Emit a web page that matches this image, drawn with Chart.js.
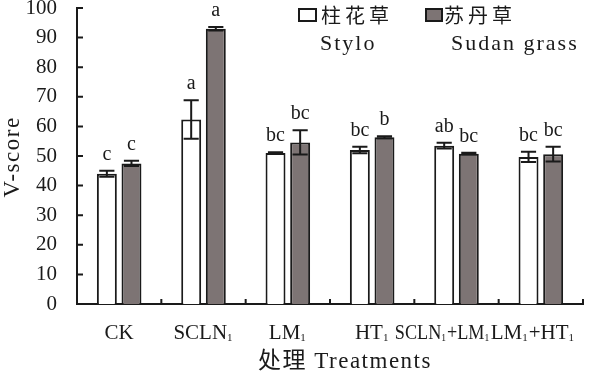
<!DOCTYPE html>
<html lang="en">
<head>
    <meta charset="UTF-8">
    <title>V-score</title>
    <script src="https://cdn.jsdelivr.net/npm/chart.js"></script>
</head>
<style>
body{
    margin: 0;
    background: #fff;
}
#box{
    width: 591px;
    height: 378px;
    position: relative;
}
</style>
<body>
    <div id="box">
        <canvas id="barChart"></canvas>
    </div>
</body>
<script>
    var categories = ['CK', 'SCLN\u2081', 'LM\u2081', 'HT\u2081', 'SCLN\u2081+LM\u2081', 'LM\u2081+HT\u2081'];
    var styloValues = [44, 62.3, 51, 52, 53.5, 49.7];
    var styloErrors = [1, 6.5, 0.3, 1.1, 1, 1.7];
    var styloLetters = ['c', 'a', 'bc', 'bc', 'ab', 'bc'];
    var sudanValues = [47.5, 93, 54.6, 56.3, 50.8, 50.6];
    var sudanErrors = [0.9, 0.6, 4.1, 0.4, 0.3, 2.5];
    var sudanLetters = ['c', 'a', 'bc', 'b', 'bc', 'bc'];
    var yTicks = [0, 10, 20, 30, 40, 50, 60, 70, 80, 90, 100];

    var serif = "'Liberation Serif', 'Times New Roman', 'Noto Sans CJK SC', serif";
    var ink = '#1a1a1a';
    var grey = '#7d7474';

    // label text with small subscript 1s, centred on cx, squeezed to maxW
    function drawSubLabel(ctx, text, cx, base, maxW) {
        var parts = text.split('\u2081');
        var big = '21px ' + serif;
        var small = '11px ' + serif;
        var w = 0;
        parts.forEach(function (p, i) {
            ctx.font = big;
            w += ctx.measureText(p).width;
            if (i < parts.length - 1) {
                ctx.font = small;
                w += ctx.measureText('1').width + 1;
            }
        });
        var k = w > maxW ? maxW / w : 1;
        ctx.save();
        ctx.translate(cx - w * k / 2, base);
        ctx.scale(k, 1);
        ctx.textAlign = 'left';
        ctx.textBaseline = 'alphabetic';
        var px = 0;
        parts.forEach(function (p, i) {
            ctx.font = big;
            ctx.fillText(p, px, 0);
            px += ctx.measureText(p).width;
            if (i < parts.length - 1) {
                ctx.font = small;
                ctx.fillText('1', px, 2);
                px += ctx.measureText('1').width + 1;
            }
        });
        ctx.restore();
    }

    // error bars, significance letters, inward ticks, labels and legend
    var extras = {
        id: 'extras',
        afterDatasetsDraw: function (chart) {
            var ctx = chart.ctx;
            var y = chart.scales.y;
            var errs = [styloErrors, sudanErrors];
            var letters = [styloLetters, sudanLetters];
            ctx.save();
            ctx.strokeStyle = ink;
            ctx.fillStyle = ink;
            ctx.lineWidth = 2;
            ctx.font = '20px ' + serif;
            ctx.textAlign = 'center';
            ctx.textBaseline = 'alphabetic';
            chart.data.datasets.forEach(function (ds, d) {
                var meta = chart.getDatasetMeta(d);
                meta.data.forEach(function (bar, i) {
                    var v = ds.data[i];
                    var e = errs[d][i];
                    var top = y.getPixelForValue(v + e);
                    var bot = y.getPixelForValue(v - e);
                    var half = bar.width * 0.38;
                    ctx.beginPath();
                    ctx.moveTo(bar.x, top);
                    ctx.lineTo(bar.x, bot);
                    ctx.moveTo(bar.x - half, top);
                    ctx.lineTo(bar.x + half, top);
                    ctx.moveTo(bar.x - half, bot);
                    ctx.lineTo(bar.x + half, bot);
                    ctx.stroke();
                    ctx.fillText(letters[d][i], bar.x, top - 11);
                });
            });
            ctx.restore();
        },
        afterDraw: function (chart) {
            var ctx = chart.ctx;
            var area = chart.chartArea;
            var x = chart.scales.x;
            var y = chart.scales.y;
            ctx.save();
            ctx.strokeStyle = ink;
            ctx.fillStyle = ink;
            ctx.lineWidth = 2;
            ctx.beginPath();
            yTicks.forEach(function (t) {
                var py = y.getPixelForValue(t);
                ctx.moveTo(area.left, py);
                ctx.lineTo(area.left + 6, py);
            });
            var step = x.getPixelForValue(1) - x.getPixelForValue(0);
            for (var i = 0; i < categories.length; i++) {
                var px = x.getPixelForValue(i) + step / 2;
                ctx.moveTo(px, area.bottom);
                ctx.lineTo(px, area.bottom - 5);
            }
            ctx.stroke();

            // category labels; the two long ones lean left like the original
            var nudge = [0, 0, 0, 0, -14, -8];
            categories.forEach(function (c, i) {
                drawSubLabel(ctx, c, x.getPixelForValue(i) + nudge[i], area.bottom + 35, step * 1.13);
            });

            // axis titles
            ctx.textAlign = 'center';
            ctx.textBaseline = 'alphabetic';
            ctx.font = '23px ' + serif;
            ctx.letterSpacing = '1.5px';
            ctx.fillText('\u5904\u7406 Treatments', 345, 368);
            ctx.save();
            ctx.translate(19, 157);
            ctx.rotate(-Math.PI / 2);
            ctx.fillText('V-score', 0, 0);
            ctx.restore();

            // legend
            ctx.letterSpacing = '0px';
            ctx.fillStyle = '#fff';
            ctx.fillRect(299, 9, 17, 12);
            ctx.strokeRect(299, 9, 17, 12);
            ctx.fillStyle = grey;
            ctx.fillRect(426, 9, 16, 12);
            ctx.strokeRect(426, 9, 16, 12);
            ctx.fillStyle = ink;
            ctx.textBaseline = 'middle';
            ctx.textAlign = 'left';
            ctx.font = "20px 'Noto Sans CJK SC'";
            ctx.letterSpacing = '4px';
            ctx.fillText('\u67f1\u82b1\u8349', 321, 15);
            ctx.fillText('\u82cf\u4e39\u8349', 444, 15);
            ctx.font = '22px ' + serif;
            ctx.letterSpacing = '2px';
            ctx.fillText('Stylo', 320, 44);
            ctx.fillText('Sudan grass', 451, 44);
            ctx.restore();
        }
    };

    var ctx = document.getElementById('barChart').getContext('2d');
    window.myChart = new Chart(ctx, {
        type: 'bar',
        data: {
            labels: categories,
            datasets: [{
                label: '\u67f1\u82b1\u8349 Stylo',
                data: styloValues,
                backgroundColor: '#fff',
                borderColor: ink,
                borderWidth: 2,
                categoryPercentage: 0.584,
                barPercentage: 0.81
            }, {
                label: '\u82cf\u4e39\u8349 Sudan grass',
                data: sudanValues,
                backgroundColor: grey,
                borderColor: ink,
                borderWidth: 2,
                categoryPercentage: 0.584,
                barPercentage: 0.81
            }]
        },
        options: {
            responsive: true,
            maintainAspectRatio: false,
            animation: false,
            layout: {
                padding: { left: 0, right: 8, top: 8, bottom: 0 }
            },
            scales: {
                x: {
                    grid: { display: false, drawTicks: false },
                    border: { display: true, color: ink, width: 2 },
                    ticks: { display: false },
                    afterFit: function (scale) {
                        scale.height = 74;
                        scale.paddingLeft = 0;
                        scale.paddingRight = 0;
                    }
                },
                y: {
                    min: 0,
                    max: 100,
                    grid: { display: false, drawTicks: false },
                    border: { display: true, color: ink, width: 2 },
                    ticks: {
                        stepSize: 10,
                        padding: 20,
                        color: ink,
                        font: { family: serif, size: 21 }
                    },
                    afterFit: function (scale) {
                        scale.width = 77;
                        scale.paddingTop = 0;
                        scale.paddingBottom = 0;
                    }
                }
            },
            plugins: {
                legend: { display: false },
                tooltip: { enabled: false }
            }
        },
        plugins: [extras]
    });
</script>
</html>
